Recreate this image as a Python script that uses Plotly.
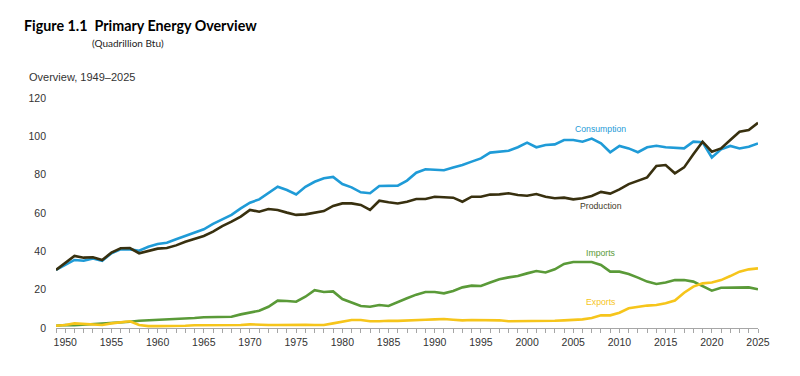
import plotly.graph_objects as go

years = list(range(1949, 2026))

consumption = [30.3, 32.9, 35.5, 35.1, 36.3, 35.1, 39.0, 41.0, 41.0, 40.3,
               42.4, 43.8, 44.5, 46.3, 48.0, 49.7, 51.5, 54.3, 56.7, 59.0,
               62.4, 65.4, 67.1, 70.3, 73.7, 72.0, 69.7, 73.7, 76.3, 78.1,
               78.8, 75.1, 73.4, 70.8, 70.3, 74.1, 74.1, 74.3, 76.9, 81.0,
               82.8, 82.4, 82.3, 83.7, 85.0, 86.8, 88.5, 91.5, 92.0, 92.5,
               94.3, 96.7, 94.3, 95.5, 95.8, 98.1, 98.1, 97.2, 98.8, 96.3,
               91.7, 95.0, 93.7, 91.7, 94.3, 95.1, 94.3, 93.9, 93.7, 97.2,
               96.9, 89.0, 93.2, 95.0, 93.7, 94.6, 96.3]

production = [30.3, 34.1, 37.6, 36.7, 36.9, 35.5, 39.3, 41.6, 41.7, 39.0,
              40.3, 41.4, 41.7, 43.1, 45.0, 46.6, 48.0, 50.3, 53.2, 55.5,
              58.1, 61.6, 60.7, 62.1, 61.6, 60.2, 59.0, 59.3, 60.2, 61.0,
              63.7, 65.0, 65.0, 64.2, 61.6, 66.4, 65.6, 65.0, 65.9, 67.3,
              67.3, 68.5, 68.2, 68.0, 65.9, 68.5, 68.5, 69.6, 69.7, 70.3,
              69.4, 69.0, 69.9, 68.5, 67.7, 68.0, 67.1, 67.7, 68.9, 71.0,
              70.1, 72.3, 75.1, 76.7, 78.6, 84.5, 85.0, 80.7, 83.8, 90.6,
              97.2, 92.0, 93.7, 98.1, 102.4, 103.3, 107.1]

imports = [1.2, 1.6, 1.4, 1.7, 1.9, 2.1, 2.6, 3.0, 3.3, 3.8,
           4.0, 4.2, 4.3, 4.7, 4.9, 5.2, 5.6, 5.7, 5.9, 5.9,
           7.1, 8.0, 9.0, 11.1, 14.3, 14.1, 13.7, 16.3, 19.7, 18.8,
           19.1, 15.1, 13.2, 11.5, 11.1, 12.0, 11.5, 13.7, 15.5, 17.4,
           18.8, 18.8, 18.1, 19.3, 21.2, 22.1, 21.9, 23.7, 25.4, 26.4,
           27.1, 28.5, 29.7, 29.0, 30.6, 33.4, 34.4, 34.4, 34.4, 32.9,
           29.4, 29.4, 28.2, 26.3, 24.2, 23.0, 23.7, 25.0, 25.0, 24.2,
           21.9, 19.5, 21.0, 21.0, 21.2, 21.2, 20.2]

exports = [1.2, 1.6, 2.4, 2.1, 1.9, 1.6, 2.4, 3.1, 3.5, 1.6,
           1.0, 1.0, 1.0, 0.9, 1.2, 1.4, 1.4, 1.4, 1.6, 1.4,
           1.6, 1.9, 1.6, 1.6, 1.6, 1.7, 1.7, 1.7, 1.6, 1.6,
           2.4, 3.3, 4.2, 4.2, 3.5, 3.5, 3.8, 3.7, 3.8, 4.2,
           4.3, 4.5, 4.7, 4.3, 4.0, 4.2, 4.2, 4.2, 4.0, 3.5,
           3.5, 3.7, 3.5, 3.5, 3.8, 4.0, 4.2, 4.5, 5.2, 6.6,
           6.6, 8.0, 10.3, 11.1, 11.7, 12.0, 12.9, 14.3, 18.4, 21.6,
           23.3, 23.7, 25.0, 27.1, 29.4, 30.6, 31.1]

series_names = ["Consumption", "Production", "Imports", "Exports"]
series_values = [consumption, production, imports, exports]
series_colors = ["#1f9bd7", "#38300f", "#5a9a38", "#f6c51b"]
label_colors = ["#1f9bd7", "#3f3a28", "#5a9a38", "#f6c51b"]
label_year = 2008
label_y = [103.8, 63.6, 39.1, 13.6]

x_tickvals = list(range(1950, 2026, 5))
y_tickvals = [0, 20, 40, 60, 80, 100, 120]

# page body has an 8px default margin; shift layout to compensate
OFF = 8
PL, PW = 56 - OFF, 702
PB, PH = 328 - OFF, 230

fig = go.Figure()
for name, vals, col in zip(series_names, series_values, series_colors):
    fig.add_trace(go.Scatter(x=years, y=vals, mode="lines", name=name,
                             line=dict(color=col, width=2.6),
                             hoverinfo="x+y+name"))

for name, ly, col in zip(series_names, label_y, label_colors):
    fig.add_annotation(x=label_year, y=ly, text=name, showarrow=False,
                       xanchor="center", yanchor="middle",
                       font=dict(family="Liberation Sans, Arial", size=8.7, color=col))


def px(x):
    return (x - OFF - PL) / PW


def py(y):
    return (PB - (y - OFF)) / PH


fig.add_annotation(xref="paper", yref="paper", x=px(22), y=py(25),
                   text="<b>Figure 1.1  Primary Energy Overview</b>", showarrow=False,
                   xanchor="left", yanchor="middle",
                   font=dict(family="Lato", size=14.3, color="#000000"))
fig.add_annotation(xref="paper", yref="paper", x=px(90), y=py(43),
                   text="(Quadrillion Btu)", showarrow=False,
                   xanchor="left", yanchor="middle",
                   font=dict(family="Lato", size=10, color="#222222"))
fig.add_annotation(xref="paper", yref="paper", x=px(27), y=py(77),
                   text="Overview, 1949–2025", showarrow=False,
                   xanchor="left", yanchor="middle",
                   font=dict(family="Liberation Sans, Arial", size=11, color="#333333"))

fig.update_layout(
    width=800, height=376,
    margin=dict(l=PL, r=800 - PL - PW, t=PB - PH, b=376 - PB),
    paper_bgcolor="white", plot_bgcolor="white",
    showlegend=False,
    font=dict(family="Liberation Sans, Arial", size=10.5, color="#333333"),
)
fig.update_xaxes(range=[1949, 2025], tickvals=x_tickvals,
                 showgrid=False, zeroline=False,
                 showline=True, linecolor="#a6a6a6", linewidth=1,
                 ticks="outside", ticklen=4, tickcolor="#a6a6a6", tickwidth=1,
                 minor=dict(dtick=1, tick0=1949, ticks="outside", ticklen=4,
                            tickcolor="#a6a6a6", tickwidth=1, showgrid=False),
                 tickfont=dict(size=10.5, color="#333333"))
fig.update_yaxes(range=[0, 120], tickvals=y_tickvals,
                 showgrid=False, zeroline=False, showline=False,
                 ticks="", ticklabelstandoff=9,
                 tickfont=dict(size=10.5, color="#333333"))

fig.write_html("out.html")
